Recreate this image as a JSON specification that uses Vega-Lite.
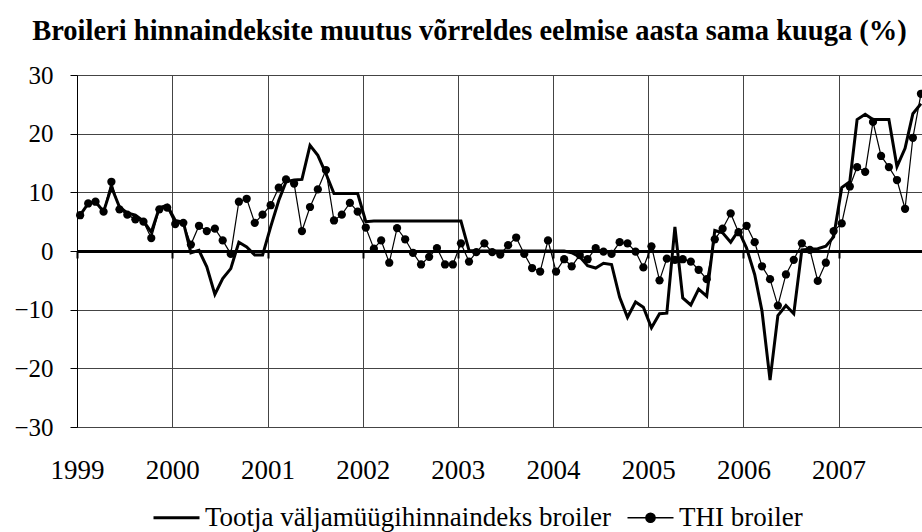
{
"$schema": "https://vega.github.io/schema/vega-lite/v6.json",
"width": 845, "height": 352,
"autosize": {"type": "none"},
"padding": {"left": 77, "top": 75, "right": 0, "bottom": 105},
"background": "white",
"config": {"view": {"stroke": null}, "font": "Liberation Serif, Times New Roman, serif"},
"title": {"text": "Broileri hinnaindeksite muutus võrreldes eelmise aasta sama kuuga (%)", "font": "Liberation Serif, Times New Roman, serif", "fontSize": 28.5, "fontWeight": "bold", "anchor": "middle", "dx": -30, "offset": 18, "color": "black"},
"data": {"values": [
{"d":"1999-01-13","P":6.1,"T":6.1},{"d":"1999-02-13","P":8.1,"T":8.1},{"d":"1999-03-13","P":8.4,"T":8.4},{"d":"1999-04-13","P":6.7,"T":6.7},{"d":"1999-05-13","P":10.9,"T":11.8},{"d":"1999-06-13","P":7.5,"T":7.1},{"d":"1999-07-13","P":6.5,"T":6.2},{"d":"1999-08-13","P":6.1,"T":5.4},{"d":"1999-09-13","P":5.1,"T":5.0},{"d":"1999-10-13","P":3.2,"T":2.2},{"d":"1999-11-13","P":7.4,"T":7.1},{"d":"1999-12-13","P":7.8,"T":7.4},
{"d":"2000-01-13","P":5.2,"T":4.6},{"d":"2000-02-13","P":4.9,"T":4.8},{"d":"2000-03-13","P":-0.3,"T":1.1},{"d":"2000-04-13","P":0.1,"T":4.3},{"d":"2000-05-13","P":-2.7,"T":3.4},{"d":"2000-06-13","P":-7.4,"T":3.8},{"d":"2000-07-13","P":-4.7,"T":1.8},{"d":"2000-08-13","P":-3.0,"T":-0.5},{"d":"2000-09-13","P":1.5,"T":8.4},{"d":"2000-10-13","P":0.7,"T":8.9},{"d":"2000-11-13","P":-0.7,"T":4.8},{"d":"2000-12-13","P":-0.7,"T":6.2},
{"d":"2001-01-13","P":4.1,"T":7.8},{"d":"2001-02-13","P":8.6,"T":10.8},{"d":"2001-03-13","P":11.8,"T":12.2},{"d":"2001-04-13","P":12.1,"T":11.5},{"d":"2001-05-13","P":12.2,"T":3.4},{"d":"2001-06-13","P":18.0,"T":7.5},{"d":"2001-07-13","P":16.3,"T":10.5},{"d":"2001-08-13","P":13.2,"T":13.8},{"d":"2001-09-13","P":9.8,"T":5.2},{"d":"2001-10-13","P":9.8,"T":6.2},{"d":"2001-11-13","P":9.8,"T":8.2},{"d":"2001-12-13","P":9.8,"T":6.7},
{"d":"2002-01-13","P":5.0,"T":4.0},{"d":"2002-02-13","P":5.1,"T":0.4},{"d":"2002-03-13","P":5.1,"T":1.8},{"d":"2002-04-13","P":5.1,"T":-2.0},{"d":"2002-05-13","P":5.1,"T":3.9},{"d":"2002-06-13","P":5.1,"T":2.0},{"d":"2002-07-13","P":5.1,"T":-0.3},{"d":"2002-08-13","P":5.1,"T":-2.3},{"d":"2002-09-13","P":5.1,"T":-1.0},{"d":"2002-10-13","P":5.1,"T":0.5},{"d":"2002-11-13","P":5.1,"T":-2.3},{"d":"2002-12-13","P":5.1,"T":-2.3},
{"d":"2003-01-13","P":5.1,"T":1.3},{"d":"2003-02-13","P":0.1,"T":-1.8},{"d":"2003-03-13","P":0,"T":-0.2},{"d":"2003-04-13","P":0,"T":1.3},{"d":"2003-05-13","P":0,"T":-0.2},{"d":"2003-06-13","P":0,"T":-0.6},{"d":"2003-07-13","P":0,"T":1.0},{"d":"2003-08-13","P":0,"T":2.3},{"d":"2003-09-13","P":0,"T":-0.5},{"d":"2003-10-13","P":0,"T":-2.9},{"d":"2003-11-13","P":0,"T":-3.5},{"d":"2003-12-13","P":0,"T":1.8},
{"d":"2004-01-13","P":0,"T":-3.5},{"d":"2004-02-13","P":0,"T":-1.4},{"d":"2004-03-13","P":-0.3,"T":-2.6},{"d":"2004-04-13","P":-1.0,"T":-0.7},{"d":"2004-05-13","P":-2.5,"T":-1.4},{"d":"2004-06-13","P":-2.9,"T":0.5},{"d":"2004-07-13","P":-2.1,"T":-0.1},{"d":"2004-08-13","P":-2.3,"T":-0.5},{"d":"2004-09-13","P":-7.9,"T":1.5},{"d":"2004-10-13","P":-11.3,"T":1.3},{"d":"2004-11-13","P":-8.7,"T":-0.1},{"d":"2004-12-13","P":-9.6,"T":-2.8},
{"d":"2005-01-13","P":-13.1,"T":0.8},{"d":"2005-02-13","P":-10.7,"T":-5.0},{"d":"2005-03-13","P":-10.6,"T":-1.3},{"d":"2005-04-13","P":4.1,"T":-1.5},{"d":"2005-05-13","P":-8.0,"T":-1.4},{"d":"2005-06-13","P":-9.2,"T":-1.8},{"d":"2005-07-13","P":-6.5,"T":-3.2},{"d":"2005-08-13","P":-7.7,"T":-4.8},{"d":"2005-09-13","P":3.5,"T":2.0},{"d":"2005-10-13","P":3.1,"T":3.8},{"d":"2005-11-13","P":1.5,"T":6.4},{"d":"2005-12-13","P":3.5,"T":3.2},
{"d":"2006-01-13","P":0.5,"T":4.3},{"d":"2006-02-13","P":-4.0,"T":1.5},{"d":"2006-03-13","P":-10.2,"T":-2.6},{"d":"2006-04-13","P":-22.0,"T":-4.8},{"d":"2006-05-13","P":-11.0,"T":-9.3},{"d":"2006-06-13","P":-9.3,"T":-4.0},{"d":"2006-07-13","P":-10.7,"T":-1.5},{"d":"2006-08-13","P":0.2,"T":1.3},{"d":"2006-09-13","P":0.3,"T":0.2},{"d":"2006-10-13","P":0.4,"T":-5.1},{"d":"2006-11-13","P":0.8,"T":-2.0},{"d":"2006-12-13","P":2.4,"T":3.4},
{"d":"2007-01-13","P":10.8,"T":4.7},{"d":"2007-02-13","P":11.8,"T":11.0},{"d":"2007-03-13","P":22.4,"T":14.3},{"d":"2007-04-13","P":23.3,"T":13.5},{"d":"2007-05-13","P":22.4,"T":22.0},{"d":"2007-06-13","P":22.4,"T":16.2},{"d":"2007-07-13","P":22.4,"T":14.3},{"d":"2007-08-13","P":14.4,"T":12.1},{"d":"2007-09-13","P":17.5,"T":7.2},{"d":"2007-10-13","P":23.4,"T":19.3},{"d":"2007-11-13","P":25.1,"T":26.8}
]},
"transform": [
{"fold": ["P", "T"], "as": ["k", "v"]},
{"lookup": "k", "from": {"data": {"values": [{"k": "P", "s": "Tootja väljamüügihinnaindeks broiler"}, {"k": "T", "s": "THI broiler"}]}, "key": "k", "fields": ["s"]}}
],
"resolve": {"axis": {"x": "independent"}},
"layer": [
{
"mark": {"type": "line", "interpolate": "linear"},
"encoding": {
"x": {"field": "d", "type": "temporal",
 "scale": {"type": "utc", "domain": [{"year": 1999, "month": 1, "date": 1, "utc": true}, {"year": 2007, "month": 11, "date": 17, "utc": true}]},
 "axis": {"orient": "bottom", "format": "%Y", "formatType": "utc", "tickCount": {"interval": "year", "step": 1}, "grid": true, "gridColor": "#444", "gridWidth": 1, "domain": false, "ticks": false, "tickSize": 0, "labelFont": "Liberation Serif, Times New Roman, serif", "labelFontSize": 27, "labelColor": "black", "labelBaseline": "middle", "labelPadding": 43, "labelFlush": false, "labelOverlap": false, "title": null}},
"y": {"field": "v", "type": "quantitative",
 "scale": {"domain": [-30, 30], "nice": false, "zero": false},
 "axis": {"values": [-30, -20, -10, 0, 10, 20, 30], "grid": true, "gridColor": "#444", "gridWidth": 1, "domain": true, "domainColor": "black", "domainWidth": 1, "ticks": true, "tickSize": 7, "tickColor": "black", "labelFont": "Liberation Serif, Times New Roman, serif", "labelFontSize": 25, "labelColor": "black", "labelPadding": 17, "title": null}},
"color": {"field": "s", "type": "nominal", "sort": ["Tootja väljamüügihinnaindeks broiler", "THI broiler"],
 "scale": {"domain": ["Tootja väljamüügihinnaindeks broiler", "THI broiler"], "range": ["black", "black"]},
 "legend": {"orient": "none", "legendX": 86, "legendY": 429, "direction": "horizontal", "title": null,
  "labelFont": "Liberation Serif, Times New Roman, serif", "labelFontSize": 27, "labelColor": "black", "labelOffset": 15, "labelLimit": 0, "columnPadding": 12, "symbolSize": 2116,
  "encode": {"symbols": {"update": {
   "shape": {"signal": "datum.value === 'THI broiler' ? 'M-1,0H1M-0.2,0A0.2,0.2,0,1,0,0.2,0A0.2,0.2,0,1,0,-0.2,0Z' : 'M-1,0H1'"},
   "strokeWidth": {"signal": "datum.value === 'THI broiler' ? 1.5 : 3"},
   "fill": {"value": "black"}, "stroke": {"value": "black"}, "opacity": {"value": 1}}}}}},
"strokeWidth": {"condition": {"test": "datum.s === 'THI broiler'", "value": 1.2}, "value": 3}
}
},
{
"transform": [{"filter": "datum.s === 'THI broiler'"}],
"mark": {"type": "circle", "size": 68, "color": "black", "opacity": 1},
"encoding": {
"x": {"field": "d", "type": "temporal",
 "axis": {"orient": "bottom", "offset": -176, "tickCount": {"interval": "year", "step": 1}, "grid": false, "domain": true, "domainColor": "black", "domainWidth": 3, "ticks": true, "tickSize": 7, "tickWidth": 2, "tickColor": "black", "labels": false, "title": null}},
"y": {"field": "v", "type": "quantitative"}
}
}
]
}
